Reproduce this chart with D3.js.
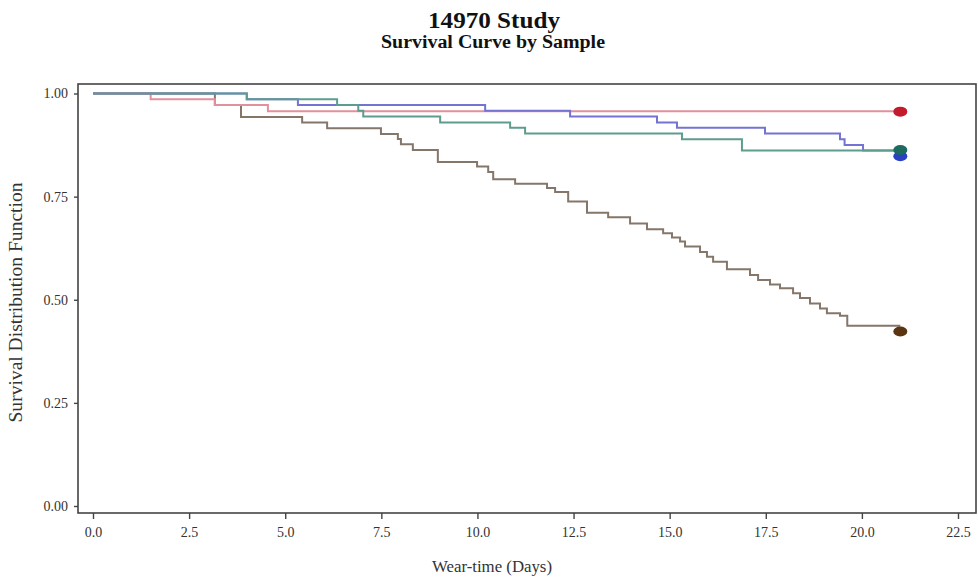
<!DOCTYPE html>
<html>
<head>
<meta charset="utf-8">
<script src="https://cdn.jsdelivr.net/npm/d3@7"></script>
<style>
  html, body { margin: 0; padding: 0; background: #fff; }
  svg { display: block; }
  text { font-family: "Liberation Serif", "DejaVu Serif", serif; fill: #222; }
</style>
</head>
<body>
<svg id="chart" width="978" height="579"></svg>
<script>
// ---- Data ----
const title = "14970 Study";
const subtitle = "Survival Curve by Sample";
const xLabel = "Wear-time (Days)";
const yLabel = "Survival Distribution Function";

const xTicks = [0, 2.5, 5, 7.5, 10, 12.5, 15, 17.5, 20, 22.5];
const yTicks = [0, 0.25, 0.5, 0.75, 1.0];

const endDay = 21;

// Kaplan-Meier step events: [day, survival after the drop]
const pinkSteps = [[0, 1.0], [1.5, 0.986], [3.17, 0.972], [4.55, 0.957]];
const tealSteps = [[0, 1.0], [4.0, 0.986], [6.35, 0.972], [6.9, 0.958], [7.03, 0.944],
  [9.03, 0.930], [10.85, 0.917], [11.24, 0.903], [15.32, 0.889], [16.88, 0.862]];
const blueSteps = [[0, 1.0], [4.0, 0.986], [5.33, 0.972], [10.2, 0.958], [12.41, 0.944],
  [14.67, 0.930], [15.19, 0.917], [17.48, 0.903], [19.43, 0.889], [19.55, 0.875], [20.03, 0.862]];
const brownSteps = [[0, 1.0], [3.17, 0.972], [3.85, 0.943], [5.44, 0.930], [6.09, 0.916],
  [7.49, 0.902], [7.93, 0.890], [8.01, 0.877], [8.32, 0.863], [8.97, 0.834], [9.99, 0.823],
  [10.28, 0.810], [10.41, 0.792], [10.98, 0.781], [11.81, 0.771], [12.02, 0.761],
  [12.36, 0.738], [12.85, 0.711], [13.40, 0.700], [13.97, 0.685], [14.41, 0.671],
  [14.83, 0.661], [15.06, 0.651], [15.27, 0.641], [15.40, 0.629], [15.79, 0.616],
  [15.97, 0.604], [16.13, 0.592], [16.49, 0.574], [17.09, 0.560], [17.30, 0.548],
  [17.61, 0.537], [17.87, 0.528], [18.21, 0.516], [18.39, 0.504], [18.65, 0.491],
  [18.91, 0.479], [19.09, 0.467], [19.43, 0.461], [19.62, 0.437]];

// end (censoring) markers: survival level where the dot sits
const markerLevels = { pink: 0.956, teal: 0.863, blue: 0.848, brown: 0.423 };

const series = [
  { key: "brown", steps: brownSteps, line: "#85766a", dot: "#5b3412" },
  { key: "pink",  steps: pinkSteps,  line: "#e2909b", dot: "#c41a2e" },
  { key: "blue",  steps: blueSteps,  line: "#7473d2", dot: "#2a41c4" },
  { key: "teal",  steps: tealSteps,  line: "#5e9c8e", dot: "#1d6b5f" }
];

// ---- Layout ----
const svg = d3.select("#chart");
const frame = { left: 78, right: 976, top: 84, bottom: 513 };

const x = d3.scaleLinear().domain([0, 22.5]).range([93, 958]);
const y = d3.scaleLinear().domain([0, 1]).range([506, 93.5]);

// Titles
svg.append("text").attr("x", 494).attr("y", 28).attr("text-anchor", "middle")
  .attr("textLength", 132).attr("lengthAdjust", "spacingAndGlyphs")
  .style("font-size", "23px").style("font-weight", "bold").style("fill", "#111").text(title);
svg.append("text").attr("x", 493).attr("y", 48).attr("text-anchor", "middle")
  .attr("textLength", 224).attr("lengthAdjust", "spacingAndGlyphs")
  .style("font-size", "18px").style("font-weight", "bold").style("fill", "#111").text(subtitle);

// Frame
svg.append("rect")
  .attr("x", frame.left).attr("y", frame.top)
  .attr("width", frame.right - frame.left).attr("height", frame.bottom - frame.top)
  .attr("fill", "none").attr("stroke", "#444").attr("stroke-width", 1.6);

// X axis
const xAxis = d3.axisBottom(x).tickValues(xTicks).tickFormat(d3.format(".1f"))
  .tickSize(6).tickSizeOuter(0).tickPadding(8);
const gx = svg.append("g").attr("transform", `translate(0,${frame.bottom})`).call(xAxis);
gx.select(".domain").remove();
gx.selectAll(".tick line").attr("stroke", "#444").attr("stroke-width", 1.4);
gx.selectAll(".tick text").style("font-size", "14px").style("fill", "#333")
  .style("font-family", "'Liberation Serif', serif");

// Y axis
const yAxis = d3.axisLeft(y).tickValues(yTicks).tickFormat(d3.format(".2f"))
  .tickSize(4).tickSizeOuter(0).tickPadding(6);
const gy = svg.append("g").attr("transform", `translate(${frame.left},0)`).call(yAxis);
gy.select(".domain").remove();
gy.selectAll(".tick line").attr("stroke", "#444").attr("stroke-width", 1.4);
gy.selectAll(".tick text").style("font-size", "14px").style("fill", "#333")
  .style("font-family", "'Liberation Serif', serif");

// Axis labels
svg.append("text").attr("x", 492).attr("y", 572).attr("text-anchor", "middle")
  .attr("textLength", 120).attr("lengthAdjust", "spacingAndGlyphs")
  .style("font-size", "16px").style("fill", "#333").text(xLabel);
svg.append("text").attr("transform", `translate(22,${(frame.top + frame.bottom) / 2 + 4}) rotate(-90)`)
  .attr("text-anchor", "middle")
  .attr("textLength", 240).attr("lengthAdjust", "spacingAndGlyphs")
  .style("font-size", "18px").style("fill", "#333").text(yLabel);

// Curves
const line = d3.line().x(d => x(d[0])).y(d => y(d[1])).curve(d3.curveStepAfter);
series.forEach(s => {
  const pts = s.steps.concat([[endDay, s.steps[s.steps.length - 1][1]]]);
  svg.append("path").datum(pts)
    .attr("d", line).attr("fill", "none")
    .attr("stroke", s.line).attr("stroke-width", 2);
});

// End markers
const dotOrder = ["brown", "pink", "blue", "teal"];
dotOrder.forEach(k => {
  const s = series.find(d => d.key === k);
  svg.append("ellipse")
    .attr("cx", x(endDay)).attr("cy", y(markerLevels[k]))
    .attr("rx", 7).attr("ry", 5)
    .attr("fill", s.dot);
});
</script>
</body>
</html>
